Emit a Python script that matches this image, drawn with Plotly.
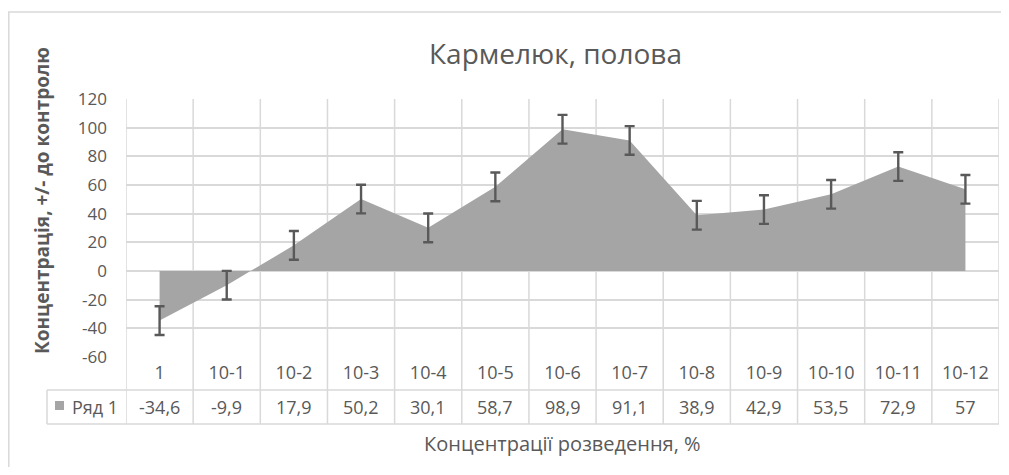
import plotly.graph_objects as go

categories = ["1", "10-1", "10-2", "10-3", "10-4", "10-5", "10-6", "10-7", "10-8", "10-9", "10-10", "10-11", "10-12"]
values = [-34.6, -9.9, 17.9, 50.2, 30.1, 58.7, 98.9, 91.1, 38.9, 42.9, 53.5, 72.9, 57]
value_labels = ["-34,6", "-9,9", "17,9", "50,2", "30,1", "58,7", "98,9", "91,1", "38,9", "42,9", "53,5", "72,9", "57"]
errors = [10] * 13
series_name = "Ряд 1"
y_ticks = [-60, -40, -20, 0, 20, 40, 60, 80, 100, 120]
y_tick_text = ["-60", "-40", "-20", "0", "20", "40", "60", "80", "100", "120"]

FONT = "Open Sans"
TXT = "#595959"
GRID = "#d9d9d9"
OFF = 8  # page body margin
W, H = 993, 459
L, T = 126 - OFF, 99 - OFF
PW, PH = 873, 258
R, B = W - L - PW, H - T - PH


def py(pix):  # window pixel y -> paper y
    return (T + PH - (pix - OFF)) / PH


def px(pix):  # window pixel x -> paper x
    return ((pix - OFF) - L) / PW


xs = list(range(len(categories)))
n = len(categories)

fig = go.Figure()
fig.add_trace(go.Scatter(
    x=xs, y=values, mode="lines", fill="tozeroy",
    line=dict(width=0, color="#a5a5a5"), fillcolor="#a5a5a5",
    error_y=dict(type="data", array=errors, visible=True, color="#595959", thickness=2.4, width=5),
    showlegend=False, hoverinfo="skip"))

shapes = []
for i in range(n + 1):
    shapes.append(dict(type="line", xref="x", yref="paper", x0=i - 0.5, x1=i - 0.5,
                       y0=1, y1=py(424), line=dict(color=GRID, width=1.5), layer="below"))
for yy in (390, 424):
    shapes.append(dict(type="line", xref="paper", yref="paper", x0=px(47), x1=1, y0=py(yy), y1=py(yy),
                       line=dict(color=GRID, width=1.5)))
shapes.append(dict(type="line", xref="paper", yref="paper", x0=px(47), x1=px(47), y0=py(390), y1=py(424),
                   line=dict(color=GRID, width=1.5)))
shapes.append(dict(type="rect", xref="paper", yref="paper", x0=px(55), x1=px(64), y0=py(410), y1=py(401),
                   fillcolor="#a5a5a5", line=dict(width=0)))
shapes.append(dict(type="rect", xref="paper", yref="paper", x0=px(8.8), x1=px(1030), y0=py(490), y1=py(12),
                   line=dict(color=GRID, width=1.5), fillcolor="rgba(0,0,0,0)"))

annotations = []
for i, lab in enumerate(value_labels):
    annotations.append(dict(x=i, y=py(407), xref="x", yref="paper", text=lab, showarrow=False,
                            font=dict(family=FONT, size=18, color=TXT), xanchor="center", yanchor="middle"))
annotations.append(dict(x=px(70), y=py(407), xref="paper", yref="paper", text=series_name, showarrow=False,
                        font=dict(family=FONT, size=18, color=TXT), xanchor="left", yanchor="middle"))
annotations.append(dict(x=px(562), y=py(443), xref="paper", yref="paper", text="Концентрації розведення, %",
                        showarrow=False, font=dict(family=FONT, size=20, color=TXT), xanchor="center", yanchor="middle"))
annotations.append(dict(x=px(42), y=py(201), xref="paper", yref="paper", text="<b>Концентрація, +/- до контролю</b>",
                        showarrow=False, textangle=-90, font=dict(family=FONT, size=19, color=TXT),
                        xanchor="center", yanchor="middle"))
annotations.append(dict(x=px(555), y=py(53), xref="paper", yref="paper", text="Кармелюк, полова",
                        showarrow=False, font=dict(family=FONT, size=28, color=TXT), xanchor="center", yanchor="middle"))

fig.update_layout(
    width=W, height=H, margin=dict(l=L, r=R, t=T, b=B),
    paper_bgcolor="white", plot_bgcolor="white",
    shapes=shapes, annotations=annotations,
    font=dict(family=FONT, color=TXT, size=17),
    xaxis=dict(range=[-0.5, n - 0.5], tickvals=xs, ticktext=categories, showgrid=False,
               zeroline=False, showline=False, ticks="", ticklabelstandoff=3,
               tickfont=dict(family=FONT, size=18, color=TXT), fixedrange=True),
    yaxis=dict(range=[-60, 120], tickvals=y_ticks, ticktext=y_tick_text, showgrid=True, gridcolor=GRID, gridwidth=1.5,
               zeroline=True, zerolinecolor=GRID, zerolinewidth=1.5, showline=False, ticks="",
               ticklabelstandoff=18, tickfont=dict(family=FONT, size=17, color=TXT), fixedrange=True),
)

fig.write_html("out.html")
